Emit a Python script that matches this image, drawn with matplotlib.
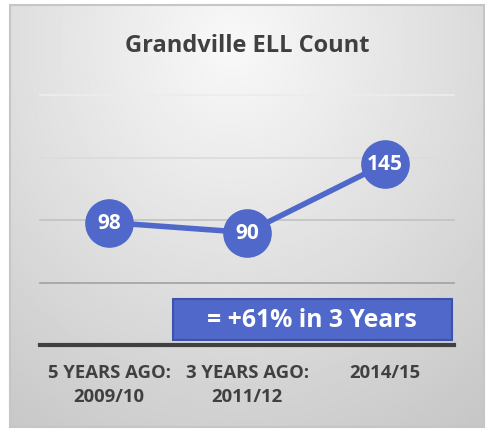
import numpy as np
import matplotlib.pyplot as plt
from matplotlib.patches import Rectangle

plt.rcParams['font.family'] = ['Open Sans', 'DejaVu Sans']

# data
categories = ["5 YEARS AGO:\n2009/10", "3 YEARS AGO:\n2011/12", "2014/15"]
counts = [98, 90, 145]
title = "Grandville ELL Count"
note = "= +61% in 3 Years"
y_ticks = [0, 50, 100, 150, 200]
grid_colors = ["#404040", "#a6a6a6", "#c4c4c4", "#dcdcdc", "#ececec"]

blue = "#4f68c9"
W, H = 492, 431
fig = plt.figure(figsize=(W / 100, H / 100), dpi=100)

# background panel with soft gradient
bg = fig.add_axes([0, 0, 1, 1])
bg.set_xlim(0, W)
bg.set_ylim(H, 0)
bg.axis('off')
yy, xx = np.mgrid[0:H, 0:W]
r = np.sqrt(((xx - 230) / 420.0) ** 2 + ((yy - 40) / 460.0) ** 2)
shade = np.clip(0.975 - 0.19 * r, 0.78, 0.975)
bg.imshow(shade, cmap='gray', vmin=0, vmax=1, extent=[10, 484, 428, 6],
          aspect='auto', zorder=0)
bg.add_patch(Rectangle((10, 6), 474, 422, fill=False, ec="#c6c6c6", lw=1.5, zorder=1))

# plot area: x 40..454, y 96..346 (pixels, from top)
ax = fig.add_axes([40 / W, 1 - 346 / H, 414 / W, 250 / H])
ax.patch.set_alpha(0)
ax.set_xlim(-0.5, 2.5)
ax.set_ylim(0, 200)
for s in ax.spines.values():
    s.set_visible(False)
ax.set_xticks([])
ax.set_yticks([])
for v, c in zip(y_ticks, grid_colors):
    ax.axhline(v, color=c, lw=3 if v == 0 else 1.3, zorder=1, clip_on=False)

x = np.arange(len(counts))
ax.plot(x, counts, color=blue, lw=4, marker='o', markersize=34,
        markerfacecolor=blue, markeredgecolor=blue, zorder=3, clip_on=False)
for xi, v in zip(x, counts):
    ax.text(xi, v, str(v), ha='center', va='center', color='white',
            fontsize=15, fontweight='bold', zorder=4)

for xi, lab in zip(x, categories):
    ax.text(xi, -14.5, lab, ha='center', va='top', color='#404040',
            fontsize=13.3, fontweight='bold', linespacing=1.42)

fig.text(247 / W, 1 - 46 / H, title, ha='center', va='center',
         fontsize=17, fontweight='bold', color='#404040')

# note box
bg.add_patch(Rectangle((173, 300), 279, 41, fc=blue, ec="#3b53ad", lw=1.5, zorder=2))
bg.text(312, 321, note, ha='center', va='center', color='white',
        fontsize=17.8, fontweight='bold', zorder=3)

fig.savefig("out.png", dpi=100)
